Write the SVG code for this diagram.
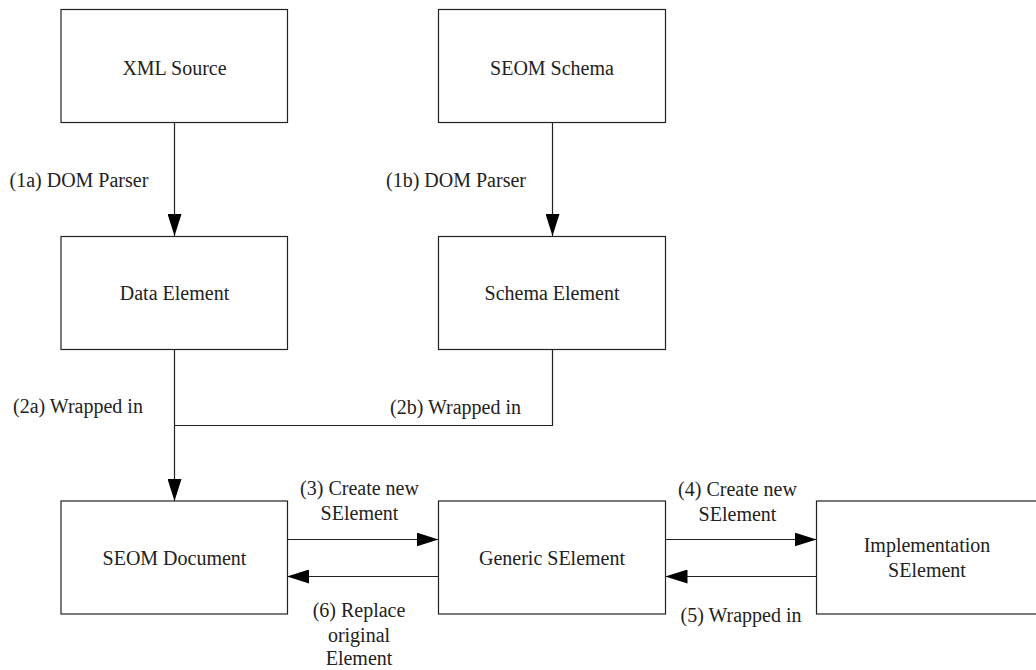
<svg xmlns="http://www.w3.org/2000/svg" width="1036" height="670" viewBox="0 0 1036 670">
<style>
.box{fill:#fff;stroke:#222;stroke-width:1.2}
.t{font-family:"Liberation Serif","Times New Roman",serif;font-size:20px;fill:#222}
.m{text-anchor:middle}
.c{fill:none;stroke:#222;stroke-width:1.2}
</style>
<defs>
<marker id="ah" markerUnits="userSpaceOnUse" markerWidth="22" markerHeight="14" refX="22" refY="7" orient="auto">
<path d="M0,0 L22,7 L0,14 Z" fill="#000"/>
</marker>
</defs>
<rect width="1036" height="670" fill="#fff"/>
<g id="connectors">
<line class="c" x1="174.5" y1="122" x2="174.5" y2="236" marker-end="url(#ah)"/>
<line class="c" x1="552.5" y1="122" x2="552.5" y2="236" marker-end="url(#ah)"/>
<line class="c" x1="174.5" y1="350" x2="174.5" y2="501" marker-end="url(#ah)"/>
<polyline class="c" points="552.5,350 552.5,425.5 174.5,425.5"/>
<line class="c" x1="287" y1="539.5" x2="438.5" y2="539.5" marker-end="url(#ah)"/>
<line class="c" x1="438.5" y1="576.5" x2="287" y2="576.5" marker-end="url(#ah)"/>
<line class="c" x1="665.5" y1="539.5" x2="816.5" y2="539.5" marker-end="url(#ah)"/>
<line class="c" x1="816.5" y1="576.5" x2="665.5" y2="576.5" marker-end="url(#ah)"/>
<text class="t" x="9.5" y="187">(1a) DOM Parser</text>
<text class="t" x="386" y="187">(1b) DOM Parser</text>
<text class="t" x="13" y="413">(2a) Wrapped in</text>
<text class="t" x="390" y="414">(2b) Wrapped in</text>
<text class="t m" x="359.5" y="495">(3) Create new</text>
<text class="t m" x="359.5" y="520">SElement</text>
<text class="t m" x="359" y="617">(6) Replace</text>
<text class="t m" x="359" y="642">original</text>
<text class="t m" x="359" y="665">Element</text>
<text class="t m" x="737.5" y="496">(4) Create new</text>
<text class="t m" x="737.5" y="521">SElement</text>
<text class="t m" x="741" y="622">(5) Wrapped in</text>
</g>
<g id="xml-source">
<rect class="box" x="61" y="9.5" width="226.5" height="113"/>
<text class="t m" x="174.5" y="75">XML Source</text>
</g>
<g id="seom-schema">
<rect class="box" x="438.5" y="9.5" width="227" height="113"/>
<text class="t m" x="552" y="75">SEOM Schema</text>
</g>
<g id="data-element">
<rect class="box" x="61" y="236.5" width="226.5" height="113"/>
<text class="t m" x="174.5" y="300">Data Element</text>
</g>
<g id="schema-element">
<rect class="box" x="438.5" y="236.5" width="227" height="113"/>
<text class="t m" x="552" y="300">Schema Element</text>
</g>
<g id="seom-document">
<rect class="box" x="61" y="501" width="226.5" height="113"/>
<text class="t m" x="174.5" y="565">SEOM Document</text>
</g>
<g id="generic-selement">
<rect class="box" x="438.5" y="501" width="227" height="113"/>
<text class="t m" x="552" y="565">Generic SElement</text>
</g>
<g id="implementation-selement">
<rect class="box" x="816.5" y="501" width="222" height="113"/>
<text class="t m" x="927" y="552">Implementation</text>
<text class="t m" x="927" y="577">SElement</text>
</g>
</svg>
